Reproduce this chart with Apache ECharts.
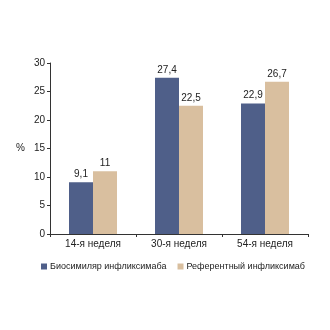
<!DOCTYPE html>
<html>
<head>
<meta charset="utf-8">
<script src="https://cdn.jsdelivr.net/npm/echarts@6/dist/echarts.min.js"></script>
<style>
  html, body { margin: 0; padding: 0; background: #fff; }
  #chart { width: 330px; height: 330px; }
</style>
</head>
<body>
<div id="chart"></div>
<script>
const categories = ['14-я неделя', '30-я неделя', '54-я неделя'];
const biosimilar = [9.1, 27.4, 22.9];
const reference = [11, 22.5, 26.7];
const seriesNames = ['Биосимиляр инфликсимаба', 'Референтный инфликсимаб'];
const yTicks = { min: 0, max: 30, interval: 5 };

const font = '"Liberation Sans Narrow", "Liberation Sans", Arial, sans-serif';
const fmt = v => String(v).replace('.', ',');

const chart = echarts.init(document.getElementById('chart'), null, { renderer: 'canvas' });
chart.setOption({
  animation: false,
  textStyle: { fontFamily: font, color: '#222' },
  grid: { left: 50, right: 22, top: 63, bottom: 96, containLabel: false },
  legend: {
    orient: 'horizontal',
    top: 262,
    left: 41,
    width: 400,
    padding: 0,
    itemWidth: 6,
    itemHeight: 6,
    itemGap: 11,
    icon: 'rect',
    textStyle: { fontFamily: font, fontSize: 9, color: '#222', padding: [0, 0, 0, -2] },
    data: seriesNames
  },
  xAxis: {
    type: 'category',
    data: categories,
    axisLine: { lineStyle: { color: '#333', width: 1 } },
    axisTick: { show: true, alignWithLabel: false, length: 3, lineStyle: { color: '#333' } },
    axisLabel: { fontFamily: font, fontSize: 10, color: '#222', margin: 5 }
  },
  yAxis: {
    type: 'value',
    min: yTicks.min,
    max: yTicks.max,
    interval: yTicks.interval,
    name: '%',
    nameLocation: 'middle',
    nameRotate: 0,
    nameGap: 25,
    nameTextStyle: { fontFamily: font, fontSize: 10, color: '#222' },
    axisLine: { show: true, lineStyle: { color: '#333', width: 1 } },
    axisTick: { show: true, length: 3, lineStyle: { color: '#333' } },
    splitLine: { show: false },
    axisLabel: { fontFamily: font, fontSize: 10, color: '#222', margin: 5 }
  },
  series: [
    {
      name: seriesNames[0],
      type: 'bar',
      data: biosimilar,
      barWidth: 24,
      barGap: '0%',
      itemStyle: { color: '#4f5f89' },
      label: { show: true, position: 'top', distance: 3, fontFamily: font, fontSize: 10, color: '#222', formatter: p => fmt(p.value) }
    },
    {
      name: seriesNames[1],
      type: 'bar',
      data: reference,
      barWidth: 24,
      itemStyle: { color: '#d9bf9f' },
      label: { show: true, position: 'top', distance: 3, fontFamily: font, fontSize: 10, color: '#222', formatter: p => fmt(p.value) }
    }
  ]
});
</script>
</body>
</html>
